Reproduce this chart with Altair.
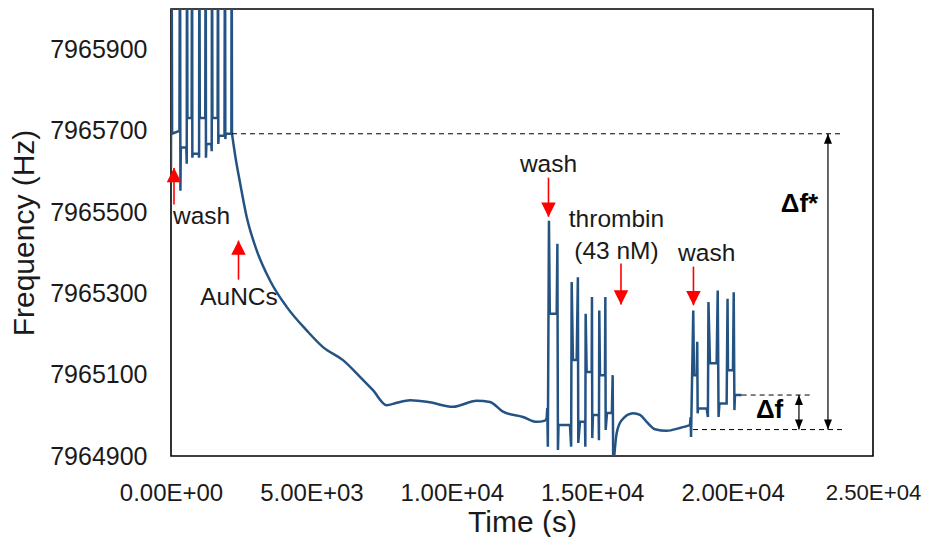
import altair as alt
import pandas as pd

# ---------------- data ----------------
# first injection / wash cycles (spikes run off the top of the plot)
g1_t = [0, 18, 40, 300, 320, 335, 350, 545, 560, 570, 585, 735, 750, 760, 775,
        985, 1000, 1010, 1025, 1220, 1235, 1245, 1260, 1435, 1450, 1460, 1475,
        1660, 1675, 1685, 1700, 1905, 1923, 1935, 1950, 2150, 2160, 2172]
g1_f = [7965610, 7966300, 7965693, 7965700, 7966300, 7965553, 7965659, 7965659,
        7965619, 7966300, 7965732, 7965732, 7966300, 7965634, 7965644, 7965644,
        7965634, 7966300, 7965732, 7965732, 7966300, 7965634, 7965668, 7965668,
        7965650, 7966300, 7965732, 7965732, 7966300, 7965668, 7965688, 7965688,
        7966300, 7965680, 7965693, 7965693, 7966300, 7965693]

# AuNCs binding decay (smooth)
decay_t = [2172, 2315, 2457, 2696, 3052, 3525, 4120, 4832, 5413, 6125, 6730, 7193,
           7681, 8037, 8511, 9223, 10042, 10886, 11360, 11823, 12535, 13023, 13318,
           13378]
decay_f = [7965693, 7965627, 7965573, 7965488, 7965406, 7965332, 7965267, 7965209,
           7965168, 7965136, 7965095, 7965062, 7965025, 7965031, 7965037, 7965032,
           7965021, 7965036, 7965033, 7965009, 7964996, 7964984, 7964987, 7964993]

# wash + thrombin spikes
g2_t = [13378, 13400, 13420, 13460, 13490, 13735, 13760, 13780, 13800, 14208,
        14250, 14269, 14315, 14447, 14490, 14504, 14564, 14742, 14755, 14767,
        14803, 14981, 14992, 15002, 15027, 15230, 15240, 15252, 15277, 15455,
        15468, 15480, 15526, 15700, 15729, 15750]
g2_f = [7964993, 7965018, 7964923, 7965479, 7965250, 7965250, 7965422, 7964915,
        7964976, 7964976, 7964923, 7965328, 7965136, 7965136, 7965340, 7964932,
        7964984, 7964984, 7964923, 7965250, 7965107, 7965107, 7965291, 7964944,
        7965001, 7965001, 7964939, 7965258, 7965099, 7965099, 7965291, 7964964,
        7965006, 7965006, 7965099, 7964870]

# recovery after thrombin (smooth)
rec_t = [15750, 15871, 16049, 16463, 16702, 16940, 17235, 17652, 18125, 18481]
rec_f = [7964870, 7964956, 7964988, 7965005, 7965001, 7964984, 7964966, 7964962,
         7964969, 7964976]

# final wash
g3_t = [18481, 18506, 18520, 18599, 18624, 18720, 18740, 18756, 18767, 19076, 19120,
        19140, 19194, 19432, 19470, 19500, 19530, 19788, 19820, 19835, 20013,
        20040, 20065, 20084, 20323]
g3_f = [7964976, 7964996, 7964947, 7965258, 7965099, 7965099, 7965181, 7965005, 7965017,
        7965017, 7964996, 7965279, 7965128, 7965128, 7965307, 7964996, 7965029,
        7965029, 7965287, 7965111, 7965111, 7965303, 7965013, 7965050, 7965050]

x_ticks = [0, 5000, 10000, 15000, 20000, 25000]
y_ticks = [7964900, 7965100, 7965300, 7965500, 7965700, 7965900]

# red event arrows
arrow_t = [107, 2404, 13443, 16025, 18606]
arrow_tip = [7965609, 7965430, 7965489, 7965273, 7965271]
arrow_tail = [7965519, 7965334, 7965585, 7965374, 7965366]
arrow_dir = ["up", "up", "down", "down", "down"]

# event labels
label_text = ["AuNCs", "wash", "thrombin", "(43 nM)", "wash"]
label_t = [2422, 13443, 15864, 15864, 19076]
label_f = [7965271, 7965598, 7965463, 7965386, 7965381]
first_label = ["wash"]
first_label_t = [71]
first_label_f = [7965472]

# dashed reference lines
dash_t = [2172, 20323, 18590]
dash_t2 = [23930, 22826, 23930]
dash_f = [7965693, 7965050, 7964965]

# double arrows (delta f* and delta f)
darrow_t = [23396, 22363]
darrow_top = [7965693, 7965050]
darrow_bot = [7964965, 7964965]
delta_text = ["\u0394f*", "\u0394f"]
delta_t = [23050, 21804]
delta_f = [7965500, 7964993]

# ---------------- chart ----------------
FONT = "Liberation Sans"
LINE_COLOR = "#245383"
TXT = "#1a1a1a"


def seg_df(ts, fs, name):
    return pd.DataFrame({"t": ts, "f": fs, "i": list(range(len(ts))), "seg": name})


spiky_df = pd.concat([seg_df(g1_t, g1_f, "g1"), seg_df(g2_t, g2_f, "g2"),
                      seg_df(g3_t, g3_f, "g3")], ignore_index=True)
smooth_df = pd.concat([seg_df(decay_t, decay_f, "decay"), seg_df(rec_t, rec_f, "rec")],
                      ignore_index=True)

xs = alt.Scale(domain=[0, 25000], nice=False, zero=False)
ys = alt.Scale(domain=[7964900, 7966000], nice=False, zero=False)

x_axis = alt.Axis(values=x_ticks,
                  labelExpr="replace(format(datum.value, '.2e'), 'e+', 'E+0')",
                  title="Time (s)", grid=False, ticks=False, tickSize=0, domain=False,
                  labelFont=FONT,
                  labelFontSize={"condition": {"test": "datum.value == 25000", "value": 22.2},
                                 "value": 24},
                  labelColor=TXT, labelPadding=25,
                  labelFlush=False, labelOverlap=False,
                  titleFont=FONT, titleFontSize=30, titleFontWeight="normal",
                  titleColor=TXT, titlePadding=2)
y_axis = alt.Axis(values=y_ticks, format="d", title="Frequency (Hz)", grid=False,
                  ticks=False, tickSize=0, domain=False,
                  labelFont=FONT, labelFontSize=25, labelColor=TXT, labelPadding=24,
                  labelOverlap=False,
                  titleFont=FONT, titleFontSize=30, titleFontWeight="normal",
                  titleColor=TXT, titlePadding=10)


def X():
    return alt.X("t:Q", scale=xs, axis=x_axis)


def Y():
    return alt.Y("f:Q", scale=ys, axis=y_axis)


spiky = alt.Chart(spiky_df).mark_line(clip=True, color=LINE_COLOR, strokeWidth=2.5).encode(
    x=X(), y=Y(), order="i:Q", detail="seg:N")
smooth = alt.Chart(smooth_df).mark_line(clip=True, color=LINE_COLOR, strokeWidth=2.5,
                                        interpolate="monotone").encode(
    x=X(), y=Y(), order="i:Q", detail="seg:N")

dash_df = pd.DataFrame({"t": dash_t, "t2": dash_t2, "f": dash_f})
dashes = alt.Chart(dash_df).mark_rule(color="black", strokeWidth=1, strokeDash=[5, 4]).encode(
    x=X(), x2="t2:Q", y=Y())

darr_df = pd.DataFrame({"t": darrow_t, "f": darrow_top, "f2": darrow_bot})
darr = alt.Chart(darr_df).mark_rule(color="black", strokeWidth=1.2).encode(
    x=X(), y=Y(), y2="f2:Q")
UP = "M0,-1L-0.8,1L0.8,1Z"
DOWN = "M0,1L-0.8,-1L0.8,-1Z"
dtop = alt.Chart(pd.DataFrame({"t": darrow_t, "f": darrow_top})).mark_point(
    shape=UP, filled=True, color="black", opacity=1, size=100, yOffset=5).encode(x=X(), y=Y())
dbot = alt.Chart(pd.DataFrame({"t": darrow_t, "f": darrow_bot})).mark_point(
    shape=DOWN, filled=True, color="black", opacity=1, size=100, yOffset=-5).encode(x=X(), y=Y())

arr_df = pd.DataFrame({"t": arrow_t, "f": arrow_tip, "f2": arrow_tail, "dir": arrow_dir})
stems = alt.Chart(arr_df).mark_rule(color="#ff0000", strokeWidth=1.6).encode(
    x=X(), y=Y(), y2="f2:Q")
RUP = "M0,-1L-1,1L1,1Z"
RDOWN = "M0,1L-1,-1L1,-1Z"
heads_up = alt.Chart(arr_df[arr_df["dir"] == "up"]).mark_point(
    shape=RUP, filled=True, color="#ff0000", opacity=1, size=210, yOffset=7).encode(x=X(), y=Y())
heads_dn = alt.Chart(arr_df[arr_df["dir"] == "down"]).mark_point(
    shape=RDOWN, filled=True, color="#ff0000", opacity=1, size=210, yOffset=-7).encode(x=X(), y=Y())

lab_df = pd.DataFrame({"t": label_t, "f": label_f, "txt": label_text})
labels = alt.Chart(lab_df).mark_text(font=FONT, fontSize=24.5, color=TXT, align="center",
                                     baseline="alphabetic").encode(x=X(), y=Y(), text="txt:N")
lab1_df = pd.DataFrame({"t": first_label_t, "f": first_label_f, "txt": first_label})
label1 = alt.Chart(lab1_df).mark_text(font=FONT, fontSize=24.5, color=TXT, align="left",
                                      baseline="alphabetic").encode(x=X(), y=Y(), text="txt:N")

delta_df = pd.DataFrame({"t": delta_t, "f": delta_f, "txt": delta_text})
deltas = alt.Chart(delta_df).mark_text(font=FONT, fontSize=26, fontWeight="bold", color="black",
                                       align="right", baseline="alphabetic").encode(
    x=X(), y=Y(), text="txt:N")

chart = alt.layer(spiky, smooth, dashes, darr, dtop, dbot, stems, heads_up, heads_dn,
                  labels, label1, deltas).properties(
    width=702, height=447,
    padding={"left": 163, "top": 1, "right": 48, "bottom": 81},
    autosize="none",
    background="white",
).configure_view(stroke="black", strokeWidth=1.6)

chart.save("out.html", embed_options={"renderer": "svg", "actions": False})
